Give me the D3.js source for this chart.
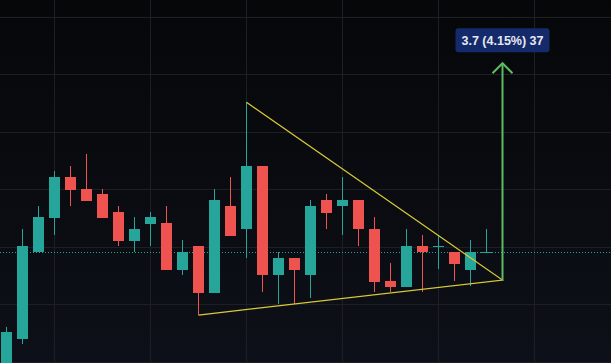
<!DOCTYPE html>
<html>
<head>
<meta charset="utf-8">
<script src="https://cdn.jsdelivr.net/npm/d3@7"></script>
<style>
  html, body { margin: 0; padding: 0; background: #0a0c10; }
  svg { display: block; }
</style>
</head>
<body>
<svg width="611" height="363"></svg>
<script>
// candles (open, high, low, close)
let opens  = [87.80, 88.40, 89.90, 90.50, 91.21, 91.00, 90.92, 90.60, 90.10, 90.40, 90.41, 89.60, 90.01, 89.20, 90.71, 90.30,
              91.40, 89.50, 89.80, 89.50, 90.81, 90.70, 90.81, 90.31, 89.40, 89.30, 90.01, 90.01, 89.91, 89.60, 89.91];
let highs  = [88.60, 90.31, 90.71, 91.32, 91.40, 91.61, 91.00, 90.71, 90.52, 90.60, 90.71, 90.12, 90.01, 91.00, 91.21, 92.51,
              91.40, 89.90, 89.80, 90.81, 90.92, 91.21, 90.81, 90.52, 89.72, 90.31, 90.20, 90.20, 89.91, 90.12, 90.31];
let lows   = [87.70, 88.31, 89.90, 90.21, 90.71, 90.80, 90.50, 90.02, 89.90, 90.02, 89.60, 89.51, 88.81, 89.20, 90.19, 89.81,
              89.22, 89.01, 89.01, 89.11, 90.31, 90.21, 90.02, 89.22, 89.22, 89.30, 89.22, 89.62, 89.41, 89.32, 89.91];
let closes = [88.52, 90.01, 90.52, 91.21, 90.99, 90.80, 90.50, 90.10, 90.31, 90.52, 89.60, 89.91, 89.20, 90.81, 90.19, 91.40,
              89.50, 89.80, 89.60, 90.71, 90.59, 90.81, 90.30, 89.39, 89.30, 90.01, 89.90, 90.01, 89.70, 89.91, 89.91];

let priceTicks = [88, 89, 90, 91, 92, 93, 94];
let timeTicks = [3, 9, 15, 21, 27, 33];

// triangle pattern: [bar index, price]
let triangle = [[15, 92.51], [31, 89.42], [12, 88.81]];
// measure arrow
let arrowBar = 31, arrowFrom = 89.42, arrowTo = 93.19;
let arrowLabel = "3.7 (4.15%) 37";
let lastPrice = 89.90;

let svg = d3.select("svg"),
  width = +svg.attr("width"),
  height = +svg.attr("height");

let up = "#26a69a", down = "#ef5350";

let x = d3.scaleLinear().domain([-0.40625, 37.78125]).range([0, width]);
let y = d3.scaleLinear().domain([87.977, 94.290]).range([height, 0]);

let defs = svg.append("defs");
let grad = defs.append("linearGradient").attr("id", "bg")
  .attr("x1", 0).attr("y1", 0).attr("x2", 0).attr("y2", 1);
grad.append("stop").attr("offset", "0%").attr("stop-color", "#060709");
grad.append("stop").attr("offset", "100%").attr("stop-color", "#0d1018");

svg.append("rect").attr("width", width).attr("height", height).attr("fill", "url(#bg)");

// grid
let grid = svg.append("g").attr("stroke", "#1d1f25").attr("stroke-width", 1);
grid.selectAll(".h").data(priceTicks).enter().append("line")
  .attr("x1", 0).attr("x2", width)
  .attr("y1", (d) => Math.round(y(d)) + 0.5)
  .attr("y2", (d) => Math.round(y(d)) + 0.5);
grid.selectAll(".v").data(timeTicks).enter().append("line")
  .attr("y1", 0).attr("y2", height)
  .attr("x1", (d) => Math.floor(x(d)) + 0.5)
  .attr("x2", (d) => Math.floor(x(d)) + 0.5);

// last price line
svg.append("line")
  .attr("x1", 0).attr("x2", width)
  .attr("y1", Math.round(y(lastPrice)) + 0.5).attr("y2", Math.round(y(lastPrice)) + 0.5)
  .attr("stroke", up).attr("stroke-width", 1).attr("stroke-dasharray", "1,2");

let candles = d3.range(opens.length).map((i) => ({
  i: i, o: opens[i], h: highs[i], l: lows[i], c: closes[i]
}));

let cg = svg.append("g").attr("shape-rendering", "crispEdges");
let bw = 11;

cg.selectAll(".wick").data(candles).enter().append("rect")
  .attr("x", (d) => Math.floor(x(d.i)))
  .attr("width", 1)
  .attr("y", (d) => Math.round(y(d.h)))
  .attr("height", (d) => Math.max(1, Math.round(y(d.l)) - Math.round(y(d.h))))
  .attr("fill", (d) => d.c >= d.o ? up : down);

cg.selectAll(".body").data(candles).enter().append("rect")
  .attr("x", (d) => Math.floor(x(d.i)) - 5)
  .attr("width", bw)
  .attr("y", (d) => Math.round(y(Math.max(d.o, d.c))))
  .attr("height", (d) => Math.max(1, Math.round(y(Math.min(d.o, d.c))) - Math.round(y(Math.max(d.o, d.c)))))
  .attr("fill", (d) => d.c >= d.o ? up : down);

// triangle
svg.append("path")
  .attr("d", d3.line().x((d) => x(d[0])).y((d) => y(d[1]))(triangle))
  .attr("fill", "none")
  .attr("stroke", "#dccb35")
  .attr("stroke-width", 1.2);

// arrow
let ax = x(arrowBar), ay0 = y(arrowFrom), ay1 = y(arrowTo);
let ag = svg.append("g").attr("stroke", "#5dbb63").attr("stroke-width", 2).attr("fill", "none");
ag.append("line").attr("x1", ax).attr("x2", ax).attr("y1", ay0).attr("y2", ay1);
ag.append("path").attr("d", "M" + (ax - 10) + "," + (ay1 + 10) + "L" + ax + "," + ay1 + "L" + (ax + 10) + "," + (ay1 + 10));

// label
let lw = 94, lh = 24;
svg.append("rect")
  .attr("x", ax - lw / 2).attr("y", ay1 - 35)
  .attr("width", lw).attr("height", lh).attr("rx", 3)
  .attr("fill", "#152a6b");
svg.append("text")
  .attr("x", ax).attr("y", ay1 - 35 + lh / 2 + 4.5)
  .attr("text-anchor", "middle")
  .attr("fill", "#e6e9f2")
  .attr("font-family", "Liberation Sans, Arial, sans-serif")
  .attr("font-weight", "bold")
  .attr("font-size", 12.5)
  .text(arrowLabel);
</script>
</body>
</html>
